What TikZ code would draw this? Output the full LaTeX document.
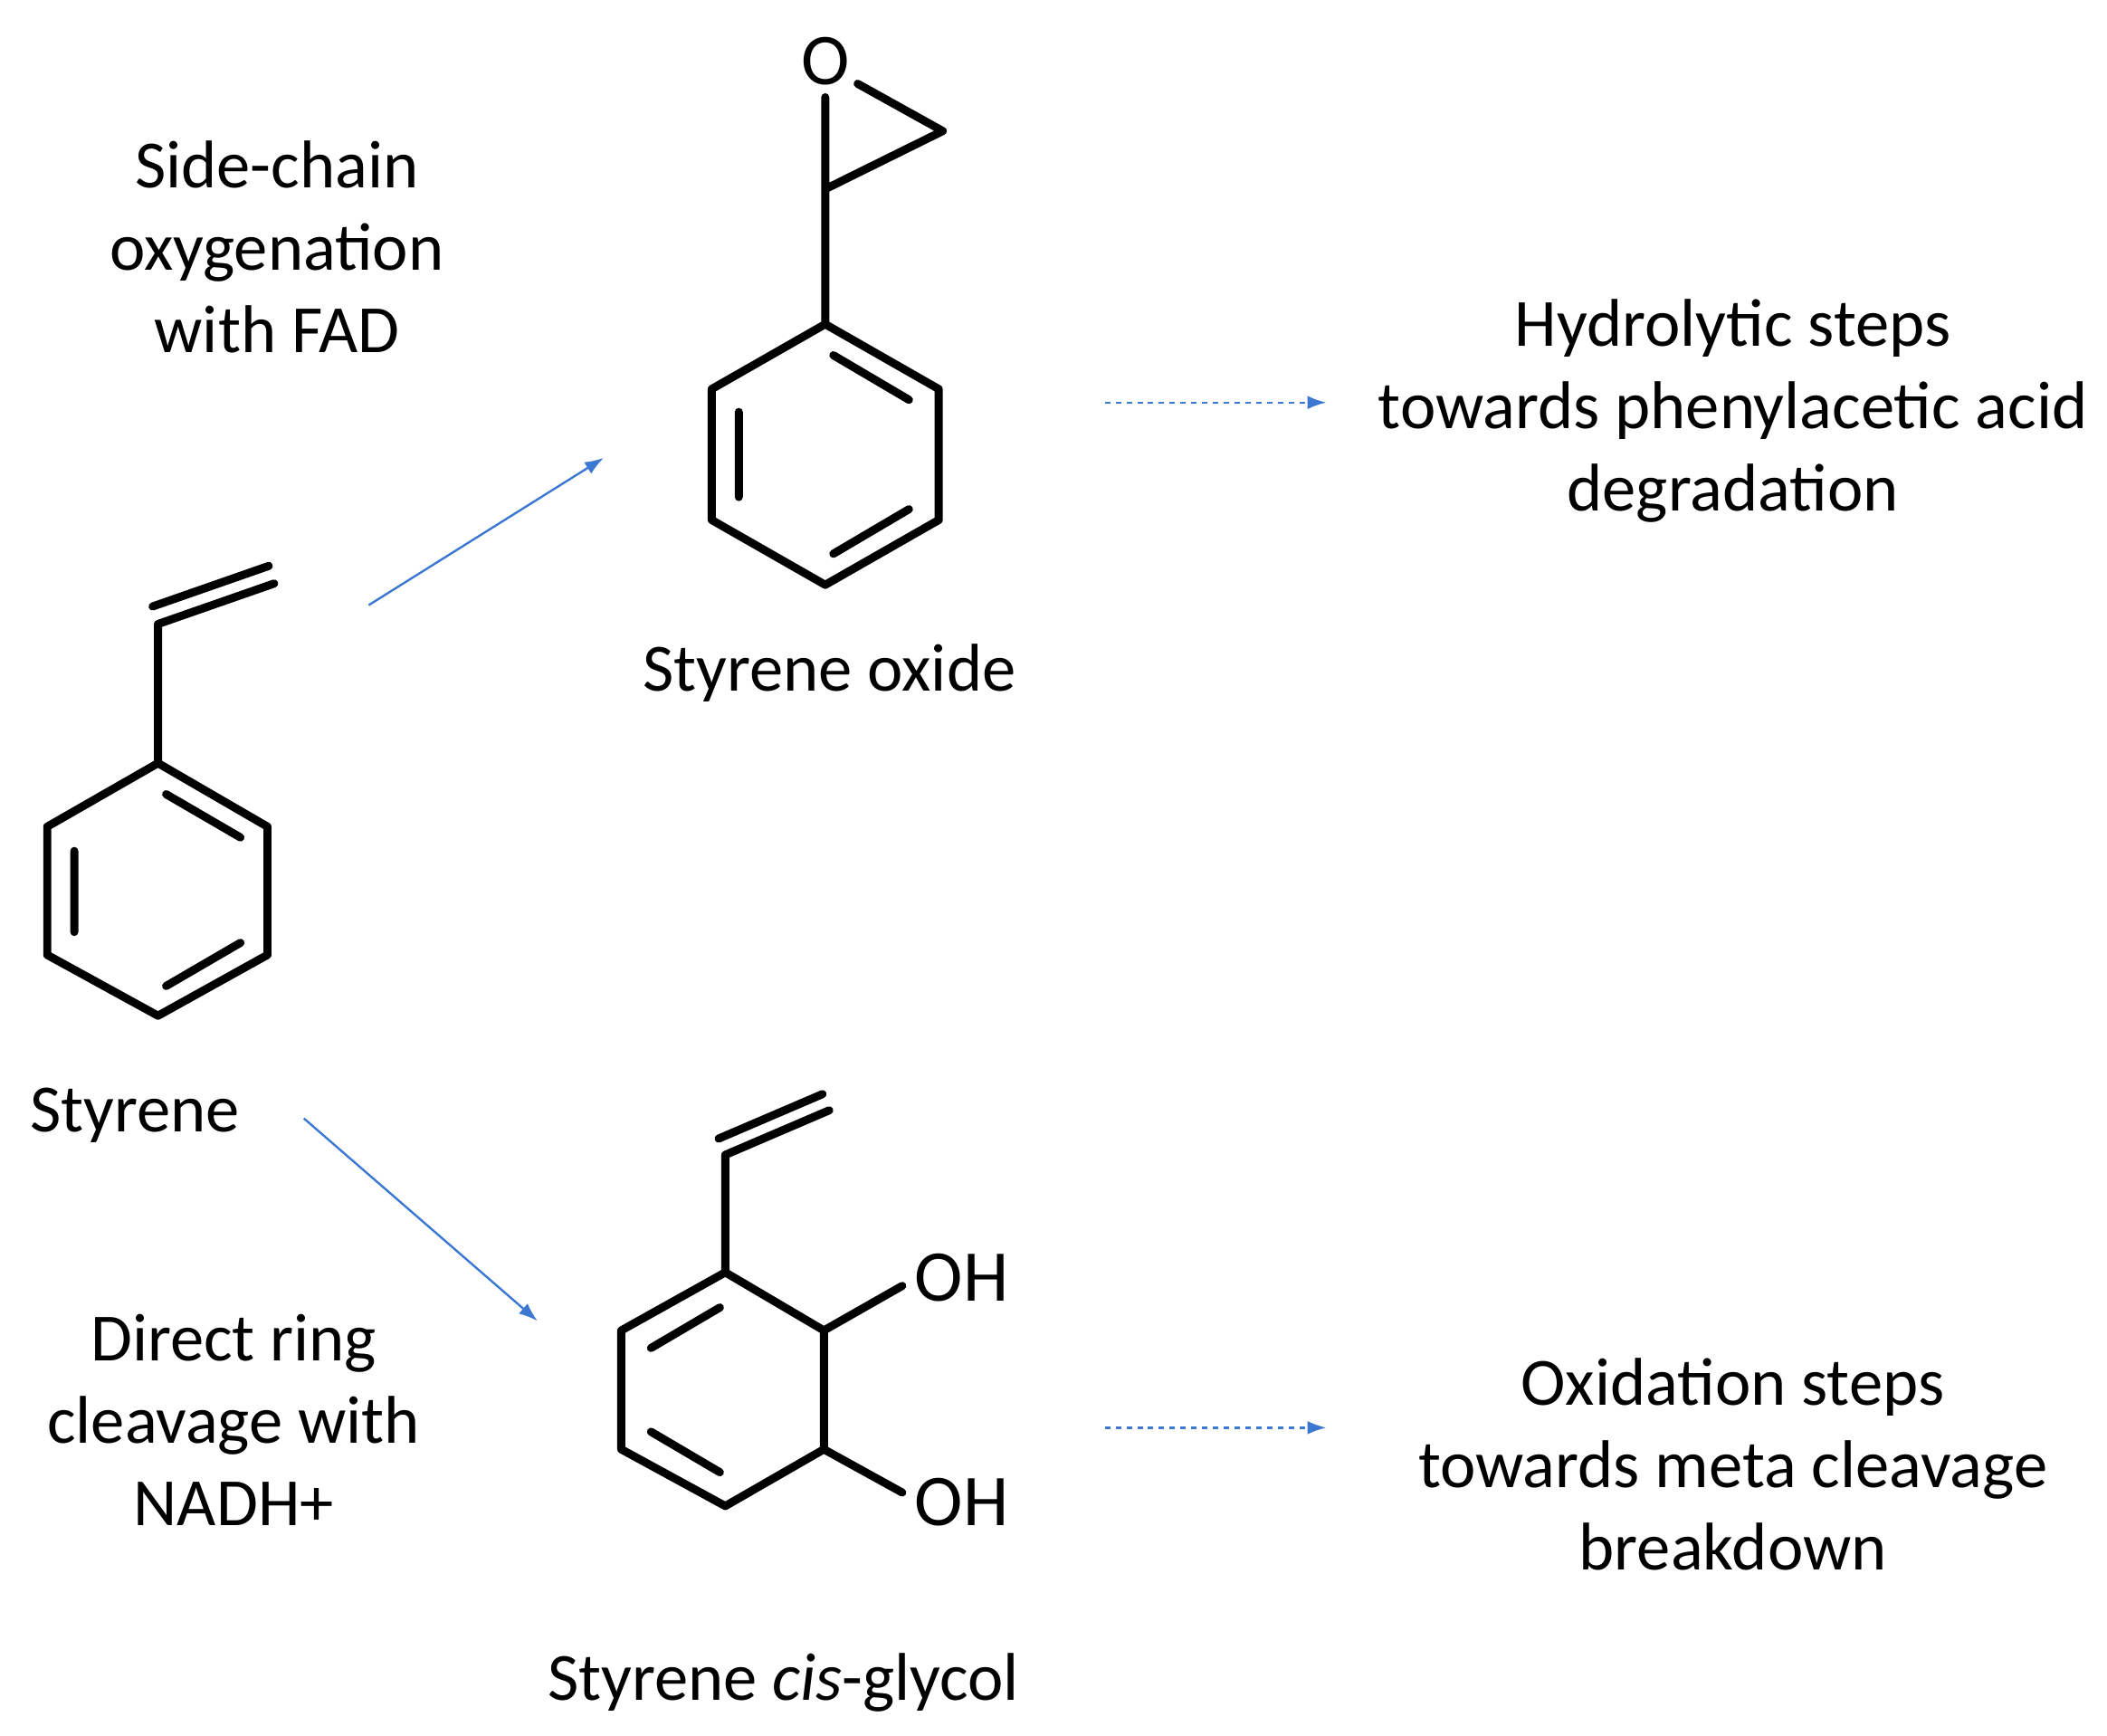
\documentclass[tikz,border=0pt]{standalone}
\usepackage{fontspec}
\setmainfont{Carlito}
\usetikzlibrary{arrows.meta}
\begin{document}
\begin{tikzpicture}[x=0.5pt,y=-0.5pt,
 bond/.style={line width=3pt,line cap=round,line join=round},
 lbl/.style={align=center,font=\fontsize{25}{30.5}\selectfont,inner sep=0pt},
 chem/.style={inner sep=0pt,font=\fontsize{27}{30}\selectfont},
 arr/.style={draw={rgb,255:red,60;green,120;blue,210},line width=0.8pt,-{Latex[length=7pt,width=5pt]}},
 darr/.style={arr,dash pattern=on 2pt off 2pt}]
\useasboundingbox (0,0) rectangle (1560,1285);
% Styrene
\draw[bond] (117,565)--(198,612)--(198,707)--(117,752)--(35,707)--(35,612)--cycle;
\draw[bond] (123,588)--(178,620) (55,630)--(55,690) (123,730)--(178,698);
\draw[bond] (117,565)--(117,462)--(203,432) (113,449)--(199,419);
% Styrene oxide
\draw[bond] (611,240)--(695,288)--(695,385)--(611,433)--(527,385)--(527,288)--cycle;
\draw[bond] (617,263)--(673,296) (547,305)--(547,368) (617,410)--(673,377);
\draw[bond] (611,240)--(611,140)--(698,97)--(635,62) (611,140)--(611,72);
\node[chem] (O) at (611,45) {O};
% Glycol
\draw[bond] (537,942)--(610,985)--(610,1073)--(537,1115)--(460,1073)--(460,985)--cycle;
\draw[bond] (482,998)--(533,968) (482,1060)--(533,1090);
\draw[bond] (537,942)--(537,855)--(614,822) (532,843)--(609,810);
\draw[bond] (610,985)--(668,952) (610,1073)--(668,1105);
\node[chem] (oh1) at (712,946) {OH};
\node[chem] (oh2) at (712,1112) {OH};
% labels
\node[lbl] (t1) at (205,183) {Side-chain\\oxygenation\\with FAD};
\node[lbl] (so) at (614,498) {Styrene oxide};
\node[lbl] (h) at (1283,304) {Hydrolytic steps\\towards phenylacetic acid\\degradation};
\node[lbl] (st) at (100,826) {Styrene};
\node[lbl] (t2) at (173,1051) {Direct ring\\cleavage with\\NADH+};
\node[lbl] (ox) at (1283,1084) {Oxidation steps\\towards meta cleavage\\breakdown};
\node[lbl] (gl) at (580,1246) {Styrene \textit{cis}-glycol};
% arrows
\coordinate (a1) at (273,448); \coordinate (b1) at (447,339);
\coordinate (a2) at (225,828); \coordinate (b2) at (398,978);
\coordinate (a3) at (818,298); \coordinate (b3) at (982,298);
\coordinate (a4) at (818,1057); \coordinate (b4) at (982,1057);
\draw[arr] (a1)--(b1);
\draw[arr] (a2)--(b2);
\draw[darr] (a3)--(b3);
\draw[darr] (a4)--(b4);
\end{tikzpicture}
\end{document}
